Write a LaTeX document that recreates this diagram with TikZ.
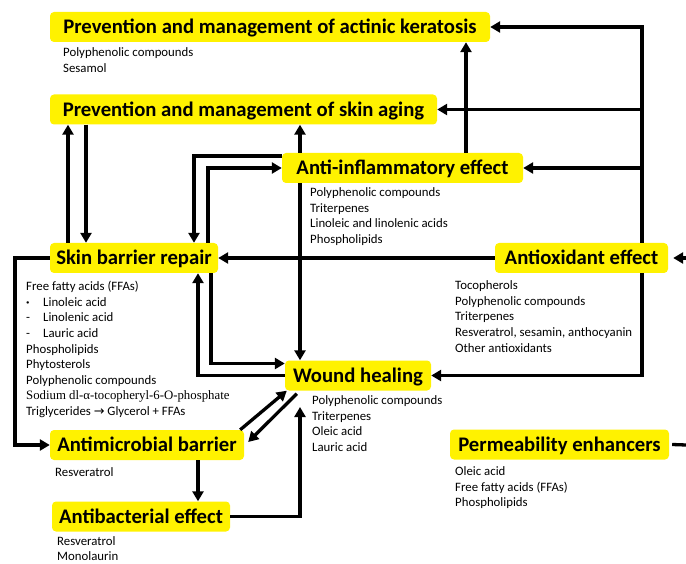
\documentclass[tikz,border=0pt]{standalone}
\usepackage{fontspec}
\setmainfont{Carlito}
\newfontfamily\serifpart{Liberation Serif}
\newfontfamily\sympart{DejaVu Sans}
\usetikzlibrary{arrows.meta}
\newcommand\tagfont{\fontsize{20.7}{24}\selectfont\bfseries}
\newcommand\notefont{\fontsize{12.8}{15.6}\selectfont}
\newcommand\dash[1]{\makebox[17pt][l]{#1}}
\begin{document}
\begin{tikzpicture}[x=1pt, y=-1pt,
    tagbox/.style = {fill=yellow, rounded corners=4pt, font=\tagfont,
        text height=13.3pt, text depth=0pt, minimum height=30pt, inner xsep=0pt},
    items/.style = {anchor=north west, align=left, inner sep=0pt, font=\notefont},
    link/.style = {line width=3.3pt},
    arrow/.style = {link, -{Triangle[length=10pt,width=11pt]}}]
    \useasboundingbox (0,0) rectangle (686,564);

    \node[tagbox, minimum width=440pt] (ak) at (270,27) {Prevention and management of actinic keratosis};
    \node[tagbox, minimum width=387pt] (sa) at (243.5,109.5) {Prevention and management of skin aging};
    \node[tagbox, minimum width=241pt] (ai) at (402.5,168) {Anti-inflammatory effect};
    \node[tagbox, minimum width=168pt] (sb) at (134,258) {Skin barrier repair};
    \node[tagbox, minimum width=173pt] (ao) at (581.5,258) {Antioxidant effect};
    \node[tagbox, minimum width=146pt] (wh) at (358,375.5) {Wound healing};
    \node[tagbox, minimum width=194pt] (am) at (147,445) {Antimicrobial barrier};
    \node[tagbox, minimum width=178pt] (ab) at (141,516.5) {Antibacterial effect};
    \node[tagbox, minimum width=219pt] (pe) at (559.5,444.5) {Permeability enhancers};

    \node[items] (akl) at (63,45.6) {\strut Polyphenolic compounds\\Sesamol};
    \node[items] (ail) at (310,185.6) {\strut Polyphenolic compounds\\Triterpenes\\
        Linoleic and linolenic acids\\Phospholipids};
    \node[items] (sbl) at (26,279.6) {\strut Free fatty acids (FFAs)\\
        \dash{\textbf{·}}Linoleic acid\\\dash{-}Linolenic acid\\\dash{-}Lauric acid\\
        Phospholipids\\Phytosterols\\Polyphenolic compounds\\
        {\serifpart Sodium dl-α-tocopheryl-6-O-phosphate}\\
        Triglycerides {\sympart →} Glycerol + FFAs};
    \node[items] (aol) at (455,278.6) {\strut Tocopherols\\Polyphenolic compounds\\Triterpenes\\
        Resveratrol, sesamin, anthocyanin\\Other antioxidants};
    \node[items] (whl) at (312,393.6) {\strut Polyphenolic compounds\\Triterpenes\\Oleic acid\\Lauric acid};
    \node[items] (aml) at (55,465.6) {\strut Resveratrol};
    \node[items] (abl) at (57,534) {\strut Resveratrol\\Monolaurin};
    \node[items] (pel) at (455,464.6) {\strut Oleic acid\\Free fatty acids (FFAs)\\Phospholipids};

    \coordinate (xt) at (642,0);
    \coordinate (xk) at (466,0);
    \coordinate (xw) at (300,407);
    \coordinate (xa) at (68,0);
    \coordinate (xb) at (86,0);
    \coordinate (xc) at (194,0);
    \coordinate (xd) at (208,0);
    \coordinate (xe) at (211,0);
    \coordinate (xf) at (198,0);
    \coordinate (xl) at (15,0);
    \coordinate (r1) at (686,258);
    \coordinate (r2) at (686,445);

    \draw[arrow] (ao.north -| xt) |- (ak.east);
    \draw[arrow] (sa.east -| xt) -- (sa.east);
    \draw[arrow] (ai.east -| xt) -- (ai.east);
    \draw[arrow] (ao.south -| xt) |- (wh.east);
    \draw[arrow] (ao.west) -- (sb.east);
    \draw[arrow] (r1) -- ([xshift=5pt]ao.east);
    \draw[link] ([xshift=3pt]pe.east) -- (r2);

    \draw[arrow] (ai.north -| xk) -- (ak.south -| xk);
    \draw[arrow] (ai.north -| xw) -- (sa.south -| xw);
    \draw[arrow] (ai.south -| xw) -- (wh.north -| xw);

    \draw[arrow] (sb.north -| xa) -- (sa.south -| xa);
    \draw[arrow] (sa.south -| xb) -- (sb.north -| xb);
    \draw[arrow] ([yshift=12pt]ai.west) -| (sb.north -| xc);
    \draw[arrow] (sb.north -| xd) |- (ai.west);
    \draw[arrow] (sb.south -| xe) |- ([yshift=12pt]wh.west);
    \draw[arrow] (wh.west) -| (sb.south -| xf);
    \draw[arrow] (sb.west) -| (am.west -| xl) -- (am.west);

    \draw[arrow] ([xshift=-4pt]am.north east) -- ([xshift=2pt]wh.south west);
    \draw[arrow] ([xshift=12pt,yshift=-3pt]wh.south west) -- ([xshift=4pt,yshift=3pt]am.east);
    \draw[arrow] (am.south -| xf) -- (ab.north -| xf);
    \draw[arrow] (ab.east) -| (xw);
\end{tikzpicture}
\end{document}
